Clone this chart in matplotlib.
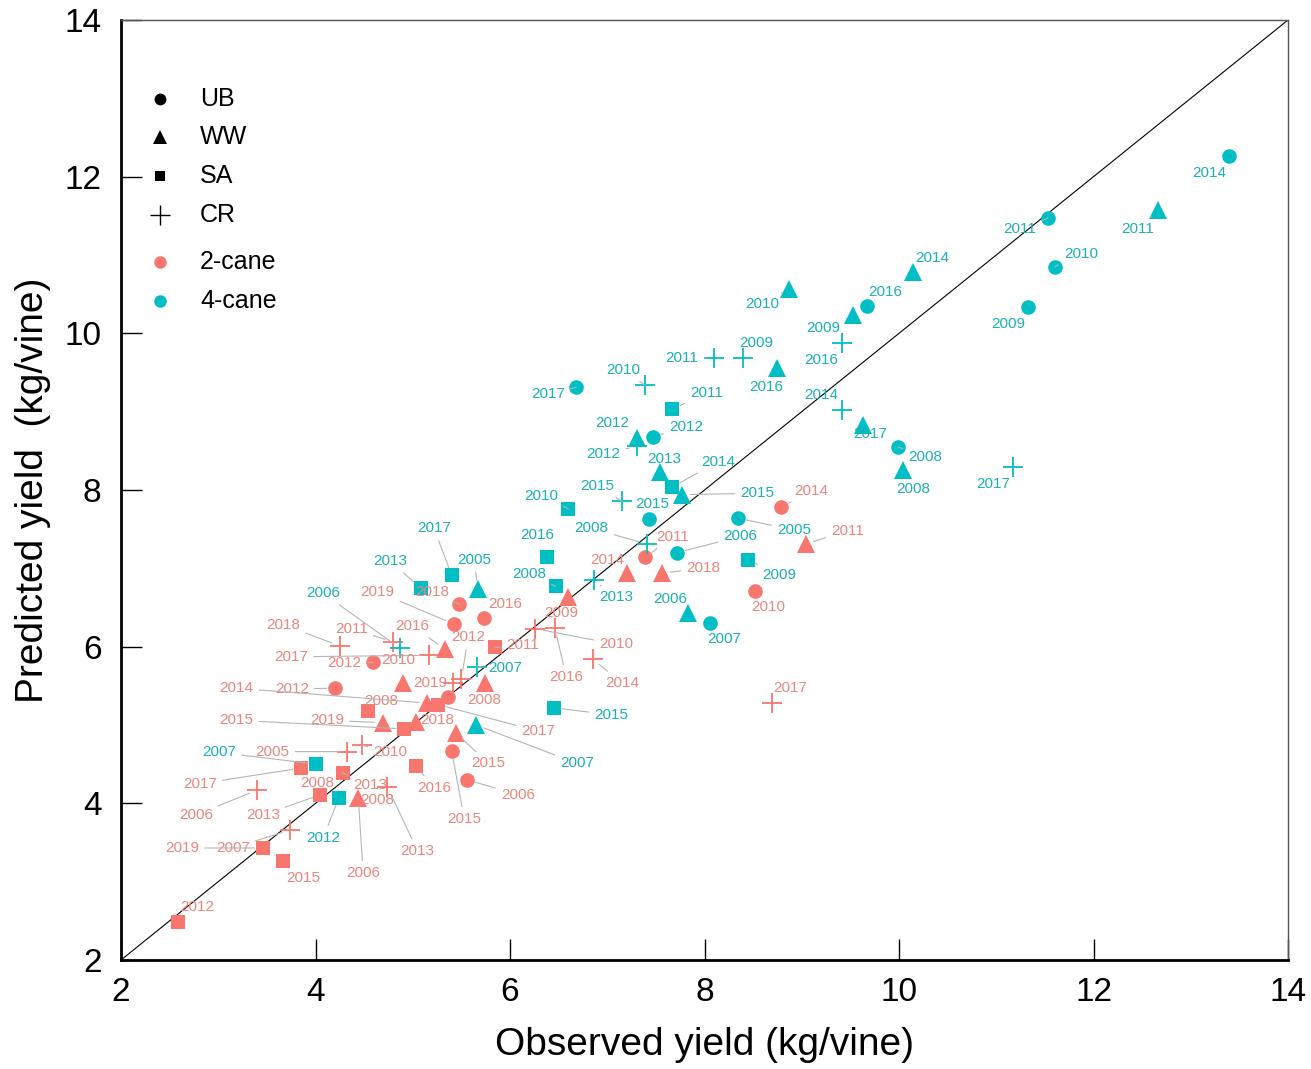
import matplotlib
matplotlib.use("Agg")
import matplotlib.pyplot as plt
from matplotlib import font_manager
import numpy as np

# ---------------- data: 4-cane ----------------
shape4 = ['UB','WW','UB','UB','UB','WW','UB','WW','WW','CR','CR','CR','WW','CR','WW','UB','WW','CR',
          'UB','CR','SA','WW','CR','UB','WW','SA','WW','CR','SA','UB','UB','UB','CR','SA','CR','WW',
          'UB','SA','SA','SA','WW','SA','CR','CR','SA','WW','SA','SA']
year4 = [2014,2011,2011,2010,2009,2014,2016,2009,2010,2016,2009,2011,2016,2014,2017,2008,2008,2017,
         2017,2010,2011,2012,2012,2012,2013,2014,2015,2015,2010,2015,2005,2006,2008,2009,2013,2006,
         2007,2016,2008,2017,2005,2013,2006,2007,2015,2007,2007,2012]
obs4 = [13.39,12.66,11.53,11.60,11.33,10.14,9.67,9.53,8.87,9.41,8.40,8.10,8.75,9.41,9.63,9.99,10.04,11.17,
        6.68,7.39,7.67,7.31,7.31,7.47,7.54,7.67,7.77,7.15,6.60,7.43,8.34,7.72,7.41,8.45,6.86,7.83,
        8.06,6.38,6.47,5.40,5.67,5.08,4.87,5.66,6.45,5.65,4.01,4.24]
pred4 = [12.26,11.57,11.47,10.85,10.34,10.78,10.35,10.23,10.57,9.88,9.69,9.69,9.56,9.02,8.83,8.55,8.26,8.29,
         9.31,9.34,9.03,8.66,8.56,8.68,8.23,8.04,7.94,7.86,7.76,7.63,7.64,7.20,7.31,7.11,6.85,6.43,
         6.30,7.14,6.77,6.91,6.74,6.75,5.98,5.74,5.22,5.00,4.50,4.07]
# label positions (layout)
labx4 = [13.19,12.45,11.24,11.87,11.12,10.34,9.86,9.22,8.59,9.20,8.53,7.77,8.64,9.20,9.70,10.27,10.15,10.97,
         6.39,7.16,8.02,7.05,6.96,7.81,7.59,8.14,8.54,6.90,6.32,7.46,8.92,8.37,6.84,8.77,7.09,7.65,
         8.20,6.28,6.20,5.22,5.63,4.77,4.08,5.95,7.04,6.69,3.01,4.08]
laby4 = [12.05,11.33,11.33,11.01,10.12,10.96,10.53,10.07,10.37,9.66,9.88,9.69,9.31,9.21,8.71,8.42,8.01,8.08,
         9.23,9.53,9.24,8.86,8.46,8.80,8.40,8.36,7.96,8.05,7.92,7.82,7.49,7.41,7.51,6.91,6.63,6.61,
         6.10,7.43,6.93,7.51,7.11,7.09,6.68,5.73,5.13,4.51,4.65,3.56]

# ---------------- data: 2-cane ----------------
shape2 = ['UB','WW','UB','UB','WW','WW','CR','WW','CR','CR','CR','UB','UB','UB','CR','CR','CR','WW',
          'UB','UB','WW','CR','CR','SA','WW','SA','WW','SA','WW','WW','SA','UB','WW','UB','UB','SA',
          'CR','CR','SA','SA','CR','SA','WW','CR','CR','SA','SA','SA']
year2 = [2014,2011,2010,2011,2014,2018,2017,2009,2016,2010,2014,2018,2016,2019,2018,2011,2017,2016,
         2012,2012,2010,2019,2012,2011,2008,2008,2019,2015,2018,2014,2017,None,2015,2015,2006,2016,
         2010,2005,2017,2013,2006,2008,2006,2013,2007,2019,2015,2012]
obs2 = [8.79,9.04,8.52,7.39,7.20,7.56,8.69,6.60,6.46,6.26,6.85,5.48,5.73,5.42,4.25,4.80,5.17,5.33,
        4.59,4.20,4.90,5.41,5.50,5.85,5.74,4.54,4.69,4.91,5.03,5.15,5.26,5.36,5.44,5.40,5.56,5.03,
        4.48,4.32,3.85,4.28,3.40,4.05,4.44,4.74,3.74,3.46,3.67,2.59]
pred2 = [7.78,7.31,6.71,7.14,6.94,6.94,5.28,6.63,6.24,6.23,5.84,6.54,6.37,6.29,6.01,6.06,5.89,5.97,
         5.80,5.47,5.54,5.54,5.59,5.99,5.54,5.18,5.03,4.95,5.04,5.28,5.26,5.36,4.90,4.67,4.30,4.48,
         4.74,4.66,4.45,4.39,4.17,4.11,4.07,4.21,3.66,3.43,3.26,2.48]
labx2 = [9.10,9.47,8.66,7.67,7.00,7.99,8.88,6.53,6.58,7.09,7.15,5.20,5.95,4.64,3.67,4.37,3.75,5.00,
         4.30,3.76,4.85,5.18,5.57,6.13,5.74,4.68,4.12,3.19,5.25,3.19,6.29,None,5.78,5.53,6.08,5.22,
         4.77,3.56,2.81,4.56,2.77,4.02,4.49,5.05,3.15,2.63,3.87,2.78]
laby2 = [7.99,7.48,6.51,7.40,7.11,7.00,5.47,6.43,5.61,6.03,5.54,6.70,6.54,6.70,6.28,6.23,5.87,6.26,
         5.79,5.46,5.83,5.54,6.12,6.02,5.32,5.31,5.06,5.06,5.06,5.47,4.92,None,4.51,3.80,4.11,4.20,
         4.66,4.66,4.25,4.23,3.85,4.26,3.11,3.39,3.43,3.43,3.05,2.68]
# extra year labels whose points overlap others (layout)
extra_text = ['2013', '2008']
extra_col = ['2', '2']
extra_x = [3.46, 4.64]
extra_y = [3.85, 4.04]
extra_to = [(4.05, 4.11), (4.44, 4.07)]

legend_shapes = ['UB', 'WW', 'SA', 'CR']
legend_canes = ['2-cane', '4-cane']

# ---------------- styling ----------------
COL = {'2': '#F8766D', '4': '#00BFC4'}
LABCOL = {'2': '#E8877F', '4': '#1BB0B6'}
MK = {'UB': 'o', 'WW': '^', 'SA': 's', 'CR': '+'}
MS = {'UB': 10.5, 'WW': 12.5, 'SA': 10.0, 'CR': 15}

names = set(f.name for f in font_manager.fontManager.ttflist)
narrow = 'Liberation Sans Narrow' if 'Liberation Sans Narrow' in names else 'Liberation Sans'

fig = plt.figure(figsize=(13.11, 10.69), dpi=100)
ax = fig.add_axes([121/1311, 1 - 960/1069, (1288-121)/1311, (960-20)/1069])
ax.set_xlim(2, 14)
ax.set_ylim(2, 14)

ax.plot([2, 14], [2, 14], color='black', lw=0.8, zorder=1)

def draw(obs, pred, shape, col):
    for s in ['UB', 'WW', 'SA', 'CR']:
        idx = [i for i, v in enumerate(shape) if v == s]
        xs = [obs[i] for i in idx]
        ys = [pred[i] for i in idx]
        if s == 'CR':
            ax.plot(xs, ys, ls='none', marker='+', ms=MS[s], mew=1.3, color=col, zorder=3)
        else:
            ax.plot(xs, ys, ls='none', marker=MK[s], ms=MS[s], mew=0, color=col, zorder=3)

draw(obs2, pred2, shape2, COL['2'])
draw(obs4, pred4, shape4, COL['4'])

fig.canvas.draw()
def px(x, y):
    return ax.transData.transform((x, y))

def label(text, x0, y0, lx, ly, col):
    p0 = px(x0, y0); p1 = px(lx, ly)
    d = np.hypot(*(p1 - p0))
    kw = dict(fontsize=11, color=col, ha='center', va='center', family='Liberation Sans', zorder=4)
    if d > 26:
        ax.annotate(text, xy=(x0, y0), xytext=(lx, ly),
                    arrowprops=dict(arrowstyle='-', color='#b5b5b5', lw=0.8, shrinkA=2, shrinkB=6),
                    **kw)
    else:
        ax.text(lx, ly, text, **kw)

for o, p, y, lx, ly in zip(obs4, pred4, year4, labx4, laby4):
    label(str(y), o, p, lx, ly, LABCOL['4'])
for o, p, y, lx, ly in zip(obs2, pred2, year2, labx2, laby2):
    if y is None:
        continue
    label(str(y), o, p, lx, ly, LABCOL['2'])
for t, c, lx, ly, to in zip(extra_text, extra_col, extra_x, extra_y, extra_to):
    label(t, to[0], to[1], lx, ly, LABCOL[c])

# legend (manual)
ly0 = [0.916, 0.8755, 0.834, 0.7926]
for s, yy in zip(legend_shapes, ly0):
    if s == 'CR':
        ax.plot([0.0334], [yy], transform=ax.transAxes, marker='+', ms=15, mew=1.0, color='black', ls='none')
    else:
        msz = {'UB': 8.5, 'WW': 9.5, 'SA': 7.5}[s]
        ax.plot([0.0334], [yy], transform=ax.transAxes, marker=MK[s], ms=msz, mew=0, color='black', ls='none')
    ax.text(0.0677, yy, s, transform=ax.transAxes, fontsize=18, va='center', ha='left', family='Liberation Sans')
for c, yy, key in zip(legend_canes, [0.7426, 0.701], ['2', '4']):
    ax.plot([0.0334], [yy], transform=ax.transAxes, marker='o', ms=9, mew=0, color=COL[key], ls='none')
    ax.text(0.0677, yy, c, transform=ax.transAxes, fontsize=18, va='center', ha='left', family='Liberation Sans')

ticks = [2, 4, 6, 8, 10, 12, 14]
ax.set_xticks(ticks)
ax.set_yticks(ticks)
ax.set_xticklabels([str(t) for t in ticks], family=narrow, fontsize=24)
ax.set_yticklabels([str(t) for t in ticks], family=narrow, fontsize=24)
ax.tick_params(direction='in', length=15, width=1.0, colors='black')
ax.tick_params(axis='x', pad=12)
ax.tick_params(axis='y', pad=14)
for sp in ['left', 'bottom']:
    ax.spines[sp].set_linewidth(2.0)
for sp in ['top', 'right']:
    ax.spines[sp].set_linewidth(1.0)
    ax.spines[sp].set_color('#555555')

ax.set_xlabel('Observed yield (kg/vine)', family=narrow, fontsize=28, labelpad=14)
ax.set_ylabel('Predicted yield  (kg/vine)', family=narrow, fontsize=28, labelpad=10)

fig.savefig('out.png', dpi=100)
